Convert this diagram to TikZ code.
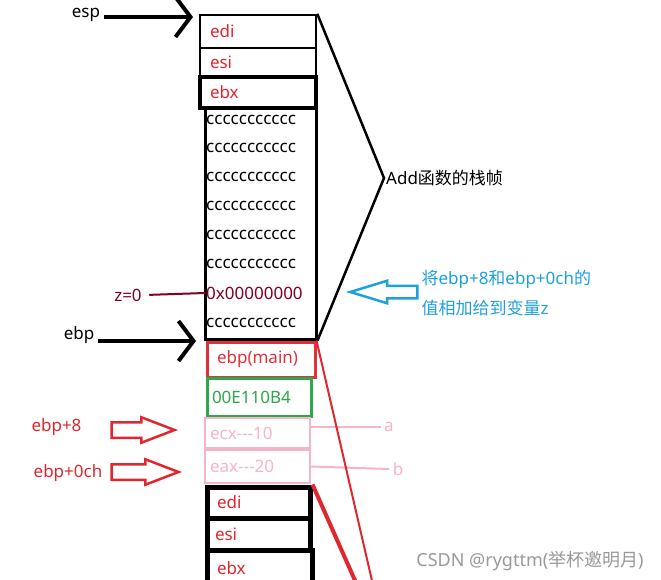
\documentclass[tikz,border=0pt]{standalone}
\usepackage{fontspec}
\setmainfont{Noto Sans}
\newfontfamily\cjk{Noto Sans CJK SC}
\usepackage{xcolor}
\usepackage{tikz}
\usetikzlibrary{arrows.meta,positioning,shapes.arrows}
\definecolor{RegRed}{HTML}{E0262E}
\definecolor{SlotRed}{HTML}{E0303A}
\definecolor{SlotGreen}{HTML}{2EA84A}
\definecolor{SlotPink}{HTML}{F5B5C8}
\definecolor{ZRed}{HTML}{800020}
\definecolor{NoteBlue}{HTML}{1EA0DC}
\definecolor{MarkGray}{HTML}{999999}
\tikzset{
  slot/.style={draw, line width=2.5pt, align=left, inner ysep=0pt,
               inner xsep=10pt, text=RegRed},
  topslot/.style={slot, text width=96pt, inner xsep=10pt},
  lowslot/.style={slot, line width=5pt},
  ccrow/.style={anchor=west, inner sep=1pt},
  pointer/.style={line width=3.5pt, -{Straight Barb[length=15pt, width=40pt, line width=4pt]}},
  bigarrow/.style={single arrow, draw, line width=2.5pt, inner xsep=0pt,
                   single arrow head extend=5pt, anchor=tip},
  tie/.style={draw=SlotPink, line width=2pt}
}

\begin{document}
\begin{tikzpicture}[x=1pt, y=-1pt, font=\fontsize{17}{20}\selectfont]
  \useasboundingbox (0,0) rectangle (661,580);
  \clip (0,0) rectangle (661,580);
  % Add frame
  \node[topslot, minimum height=33pt] (edi1) at (258,31.5) {edi};
  \node[topslot, minimum height=29pt] (esi1) at (258,62.5) {esi};
  \node[topslot, line width=3.5pt, minimum height=31pt] (ebx1) at (258,92.5) {ebx};
  \node[draw, line width=3pt, minimum width=111pt, minimum height=231pt] (frame) at (260.5,223.5) {};
  \foreach \y/\n in {120/c1,148/c2,177/c3,206/c4,235/c5,264/c6,323/c8}
    \node[ccrow] (\n) at (205,\y) {ccccccccccc};
  \node[ccrow, text=ZRed] (zero) at (205,293) {0x00000000};
  \node (esp) at (86,15) {esp};
  \coordinate (espTip) at (193,17);
  \draw[pointer] (esp.east |- espTip) -- (espTip);
  \node[anchor=west, inner xsep=2pt] (frameLbl) at (384,178) {Add{\cjk 函数的栈帧}};
  \draw[line width=2.5pt] (edi1.north east) -- (frameLbl.west) -- (frame.south east);
  \node[bigarrow, draw=NoteBlue, inner ysep=5pt, minimum height=67pt,
        single arrow tip angle=34, rotate=180] (sumArr) at (346,292) {};
  \node[anchor=west, align=left, text=NoteBlue, font=\fontsize{17}{30}\selectfont]
    (note) at (418,293) {{\cjk 将}ebp+8{\cjk 和}ebp+0ch{\cjk 的}\\{\cjk 值相加给到变量}z};
  \node[text=ZRed] (zLbl) at (128,295) {z=0};
  \draw[ZRed, line width=2pt, shorten <=4pt] (zLbl.east) -- (zero.west);
  % main frame
  \node (ebp) at (79,335) {ebp};
  \coordinate (ebpTip) at (196,341);
  \draw[pointer] (ebp.east |- ebpTip) -- (ebpTip);
  \node[slot, draw=SlotRed, text=SlotRed, line width=3pt, text width=88pt,
        minimum height=35pt] (oldEbp) at (261,359.5) {ebp(main)};
  \node[slot, draw=SlotGreen, text=SlotGreen, line width=3pt, text width=94pt,
        inner xsep=5pt, minimum height=38pt] (retAddr) at (259,397) {00E110B4};
  \node[slot, draw=SlotPink, text=SlotPink, text width=95pt, inner xsep=5pt,
        minimum height=30pt] (ecx) at (257.5,433) {\raisebox{-3pt}{ecx-{}-{}-10}};
  \node[slot, draw=SlotPink, text=SlotPink, text width=95pt, inner xsep=5pt,
        minimum height=33pt] (eax) at (257.5,466.5) {\raisebox{-3pt}{eax-{}-{}-20}};
  \node[lowslot, text width=83pt, minimum height=31pt] (edi2) at (258.5,502.5) {\raisebox{-4pt}{edi}};
  \node[lowslot, text width=87pt, inner xsep=8pt, minimum height=32pt] (esi2) at (258.5,534) {esi};
  \node[lowslot, text width=85pt, minimum height=40pt] (ebx2) at (259.5,570) {\raisebox{4pt}{ebx}};
  \node[text=SlotPink] (aVar) at (389,427) {a};
  \node[text=SlotPink] (bVar) at (398,469) {b};
  \draw[tie] (ecx.east |- aVar.west) -- (aVar.west);
  \draw[tie] (eax.east) -- (bVar.west);
  \node[text=RegRed] (p8) at (56.5,427) {ebp+8};
  \node[text=RegRed] (p0c) at (68,473) {ebp+0ch};
  \node[bigarrow, draw=RegRed, inner ysep=6.5pt, minimum height=63pt,
        single arrow tip angle=42] (arr8) at (178,430) {};
  \node[bigarrow, draw=RegRed, inner ysep=6.5pt, minimum height=67pt,
        single arrow tip angle=42] (arr0c) at (182,472) {};
  \coordinate (endA) at (373,585);
  \coordinate (endB) at (357,585);
  \draw[RegRed, line width=2pt] (oldEbp.north east) -- (endA);
  \draw[RegRed, line width=4pt] (edi2.north east) -- (endB);
  \node[text=MarkGray, font=\fontsize{18}{20}\selectfont] (mark) at (530,561) {CSDN @rygttm({\cjk 举杯邀明月})};
\end{tikzpicture}
\end{document}
